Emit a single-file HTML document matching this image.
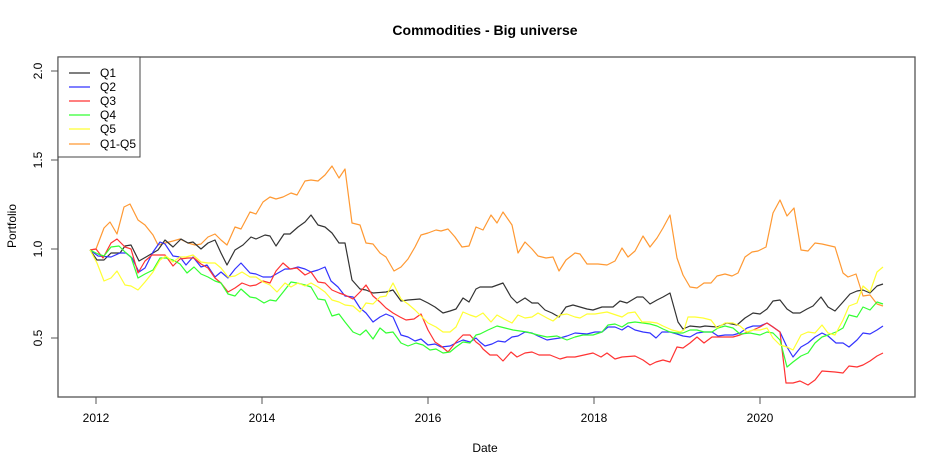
<!DOCTYPE html>
<html><head><meta charset="utf-8"><style>
html,body{margin:0;padding:0;background:#fff;}
svg{display:block;font-family:"Liberation Sans",Arial,sans-serif;}
</style></head><body>
<svg width="945" height="470" viewBox="0 0 945 470" xmlns="http://www.w3.org/2000/svg">
<rect width="945" height="470" fill="#fff"/>
<text x="485" y="35" text-anchor="middle" font-size="14" font-weight="bold">Commodities - Big universe</text>
<text x="485" y="452" text-anchor="middle" font-size="12">Date</text>
<text transform="translate(16,226) rotate(-90)" text-anchor="middle" font-size="12">Portfolio</text>
<rect x="58" y="57" width="857" height="340" fill="none" stroke="#555" stroke-width="1.3"/>
<g stroke="#555" stroke-width="1">
<line x1="96" y1="397" x2="760" y2="397"/>
<line x1="96" y1="397" x2="96" y2="404"/><line x1="262" y1="397" x2="262" y2="404"/><line x1="428" y1="397" x2="428" y2="404"/><line x1="594" y1="397" x2="594" y2="404"/><line x1="760" y1="397" x2="760" y2="404"/>
<line x1="51" y1="71" x2="58" y2="71"/><line x1="51" y1="160" x2="58" y2="160"/><line x1="51" y1="249" x2="58" y2="249"/><line x1="51" y1="338" x2="58" y2="338"/>
</g>
<g font-size="12" text-anchor="middle">
<text x="96" y="422">2012</text><text x="262" y="422">2014</text><text x="428" y="422">2016</text><text x="594" y="422">2018</text><text x="760" y="422">2020</text>
<text transform="translate(42,71) rotate(-90)">2.0</text>
<text transform="translate(42,160) rotate(-90)">1.5</text>
<text transform="translate(42,249) rotate(-90)">1.0</text>
<text transform="translate(42,338) rotate(-90)">0.5</text>
</g>
<g fill="none" stroke-width="1.2" stroke-linejoin="round">
<polyline stroke="#ff9933" points="90,250 96,249 104,228 110,222 117,234 124,207 130,204 138,220 145,225 153,235 158,245 165,243 173,241 180,239 188,243 195,245 201,244 208,237 215,234 221,240 227,245 235,227 241,229 250,212 256,214 263,202 270,197 276,199 283,197 291,193 297,195 305,181 311,180 318,181 325,175 332,166 339,178 345,169 352,223 360,225 366,243 373,244 380,253 386,257 394,271 401,267 408,259 415,247 421,235 428,233 436,230 441,231 448,229 455,237 462,247 469,246 476,227 483,230 491,215 497,223 503,212 512,225 518,253 525,242 532,249 538,256 546,258 553,257 559,271 566,260 575,253 580,254 587,264 598,264 607,265 615,261 622,248 628,257 635,251 643,236 650,247 657,238 663,228 670,215 677,258 683,275 690,287 697,288 704,283 711,283 717,276 725,274 732,276 738,273 745,257 752,252 758,251 766,247 773,213 780,200 787,216 794,208 801,250 808,251 815,243 822,244 835,247 843,273 848,277 856,274 863,296 870,295 877,304 883,306"/>
<polyline stroke="#333" points="90,250 97,260 104,260 111,253 120,253 125,246 131,245 139,261 146,257 158,250 165,240 173,247 181,239 188,243 193,242 201,249 208,243 215,240 221,253 227,265 235,250 243,245 251,237 256,239 265,235 270,236 276,246 284,234 290,234 298,227 305,222 311,215 318,225 325,227 332,233 339,243 345,243 352,280 360,289 366,290 373,293 386,292 393,290 401,301 408,300 420,299 428,303 435,307 443,313 450,311 456,309 463,298 469,302 476,289 480,287 492,287 503,283 511,297 517,303 525,298 532,303 538,303 545,310 552,313 559,317 566,307 573,305 587,309 593,310 602,307 613,307 620,301 627,303 637,297 643,297 650,304 657,300 663,297 670,293 678,322 683,329 690,326 700,327 705,326 717,327 727,323 737,325 745,318 753,313 760,314 767,309 773,301 780,300 787,309 793,313 800,313 807,309 813,306 821,297 828,307 835,311 843,302 850,294 857,291 863,290 870,293 877,286 883,284"/>
<polyline stroke="#3333ff" points="90,250 98,256 111,257 120,253 126,253 132,258 139,272 145,268 153,252 160,242 165,244 173,256 180,257 186,265 193,257 201,267 207,265 215,277 221,272 228,278 235,269 241,263 250,273 256,274 263,277 271,277 278,273 285,269 291,269 298,267 305,269 311,272 318,270 325,267 331,281 338,287 345,296 353,297 360,308 366,313 373,322 380,317 386,314 393,317 401,335 408,337 415,341 421,339 428,345 435,344 441,347 450,346 456,343 463,340 470,342 476,338 480,342 485,346 492,344 498,341 505,342 512,337 518,336 525,332 532,333 538,336 547,340 553,339 560,338 567,336 575,333 587,334 595,332 602,332 608,327 615,327 622,330 628,326 635,330 643,332 650,333 656,338 662,332 670,332 677,334 683,336 690,337 697,333 704,332 712,332 718,336 725,335 733,335 740,333 747,328 753,326 760,326 767,323 773,327 780,332 787,347 793,357 801,347 808,343 815,337 822,333 828,336 836,343 843,343 849,347 857,340 863,333 870,334 877,330 883,326"/>
<polyline stroke="#ff3333" points="90,250 96,249 103,258 111,243 117,239 125,247 131,249 138,273 145,261 152,255 165,255 173,266 180,259 188,258 194,258 201,264 208,268 215,278 221,283 228,292 235,288 242,283 250,286 256,285 263,281 270,283 276,271 283,263 290,269 297,268 305,275 311,272 318,282 325,283 332,290 339,293 345,295 353,299 360,292 366,285 373,296 380,302 386,308 393,313 400,317 406,320 414,319 421,314 428,330 435,342 441,346 448,352 456,342 463,335 470,335 476,342 480,345 483,349 490,355 497,355 503,361 511,352 517,357 525,353 532,352 539,355 550,355 560,359 567,357 575,357 593,353 601,357 607,353 615,359 622,357 635,356 643,360 650,365 656,362 663,360 670,362 677,347 683,348 690,343 697,337 704,343 712,337 723,337 733,337 740,335 753,330 760,327 767,323 773,327 780,332 786,383 793,383 800,381 808,385 815,380 822,371 835,372 843,373 849,366 857,367 863,365 870,361 877,356 883,353"/>
<polyline stroke="#33ff33" points="90,250 98,254 104,256 111,247 119,246 125,252 131,257 138,278 145,274 153,270 160,258 166,258 173,260 180,264 187,273 194,267 201,274 208,277 215,281 221,283 228,294 235,296 241,289 250,297 256,298 264,303 270,300 276,301 284,291 291,282 297,283 305,285 311,287 318,299 325,300 332,316 339,314 345,322 353,332 360,335 366,330 373,339 380,328 386,333 393,332 401,343 408,346 416,343 423,345 430,350 436,349 443,353 450,352 456,347 463,342 470,343 476,335 480,334 488,330 497,326 505,328 513,330 527,332 538,335 547,337 557,336 567,340 575,337 583,335 593,335 602,332 608,325 615,324 622,327 628,323 635,322 643,323 650,324 657,326 663,329 670,332 677,333 683,333 690,330 697,330 704,332 712,332 718,328 725,326 733,328 740,334 750,333 760,335 767,332 773,333 780,340 787,367 793,362 801,356 808,353 815,343 822,337 828,335 836,332 843,328 849,315 857,317 863,307 870,310 877,302 883,304"/>
<polyline stroke="#ffff33" points="90,250 97,263 104,281 111,278 117,271 125,285 131,286 138,290 145,282 153,272 160,260 166,256 173,262 180,257 186,257 193,255 201,262 208,263 215,263 221,268 228,277 235,276 242,272 250,277 256,277 263,282 270,285 277,292 285,283 291,287 298,283 305,286 311,283 318,287 325,292 332,300 339,302 345,305 353,306 360,312 366,303 373,304 380,297 386,296 393,283 401,299 408,304 415,310 421,316 428,323 436,327 443,332 450,332 456,327 463,312 470,315 476,317 483,313 491,322 497,315 504,319 512,323 518,315 525,318 532,317 538,313 547,318 553,321 560,315 567,314 575,317 580,318 587,314 595,314 607,312 613,314 622,317 628,313 635,312 642,322 650,322 657,323 663,326 672,330 680,332 684,330 688,317 695,317 703,318 711,320 717,328 725,323 733,323 740,326 747,332 753,330 760,330 767,328 773,338 780,345 787,347 793,350 801,335 808,332 815,333 822,325 828,333 835,335 843,320 849,306 857,303 863,286 870,292 877,272 883,267"/>
</g>
<rect x="58" y="57" width="82" height="100" fill="#fff" stroke="#444" stroke-width="1"/>
<g stroke-width="1.2">
<line x1="69" y1="73" x2="90" y2="73" stroke="#333"/>
<line x1="69" y1="87" x2="90" y2="87" stroke="#3333ff"/>
<line x1="69" y1="101" x2="90" y2="101" stroke="#ff3333"/>
<line x1="69" y1="115" x2="90" y2="115" stroke="#33ff33"/>
<line x1="69" y1="129" x2="90" y2="129" stroke="#ffff33"/>
<line x1="69" y1="144" x2="90" y2="144" stroke="#ff9933"/>
</g>
<g font-size="12">
<text x="100" y="77">Q1</text><text x="100" y="91">Q2</text><text x="100" y="105">Q3</text><text x="100" y="119">Q4</text><text x="100" y="133">Q5</text><text x="100" y="148">Q1-Q5</text>
</g>
</svg>
</body></html>
